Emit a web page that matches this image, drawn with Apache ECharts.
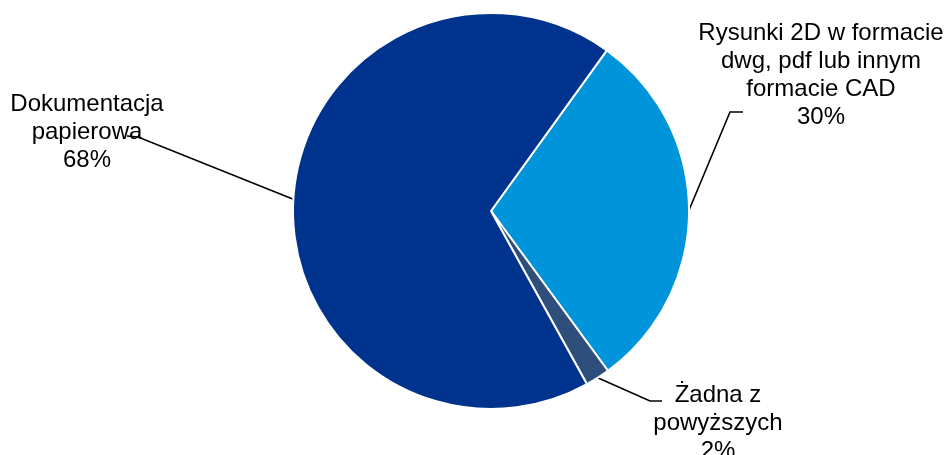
<!DOCTYPE html>
<html>
<head>
<meta charset="utf-8">
<script src="https://cdn.jsdelivr.net/npm/echarts@6/dist/echarts.min.js"></script>
<style>
html,body{margin:0;padding:0;background:#fff;}
#chart{width:946px;height:455px;}
</style>
</head>
<body>
<div id="chart"></div>
<script>
// Slice names and shares (%), in clockwise order
const categories = [
  'Rysunki 2D w formacie\ndwg, pdf lub innym\nformacie CAD',
  'Żadna z\npowyższych',
  'Dokumentacja\npapierowa'
];
const shares = [30, 2, 68];
const colors = ['#0094DA', '#2E4F7B', '#00338D'];

// Where each label sits and how its leader line bends
const labelSpots = [
  { x: 821, y: 75, bend: [730, 112], end: [743, 112] },
  { x: 718, y: 423, bend: [650, 401], end: [662, 401] },
  { x: 87, y: 132, bend: [138, 137], end: [127, 136] }
];

const chart = echarts.init(document.getElementById('chart'));
chart.setOption({
  animation: false,
  series: [{
    type: 'pie',
    center: [491, 211],
    radius: 198,
    startAngle: 54.2,
    clockwise: true,
    avoidLabelOverlap: false,
    data: categories.map((name, i) => ({
      name: name,
      value: shares[i],
      itemStyle: { color: colors[i] }
    })),
    itemStyle: { borderColor: '#ffffff', borderWidth: 2 },
    label: {
      show: true,
      formatter: '{b}\n{c}%',
      fontFamily: 'Liberation Sans, Arial, sans-serif',
      fontSize: 24,
      lineHeight: 28,
      color: '#000000',
      align: 'center'
    },
    labelLine: {
      show: true,
      lineStyle: { color: '#000000', width: 1.6 }
    },
    labelLayout: function (params) {
      const s = labelSpots[params.dataIndex];
      const p0 = params.labelLinePoints ? params.labelLinePoints[0] : s.bend;
      return {
        x: s.x,
        y: s.y,
        align: 'center',
        verticalAlign: 'middle',
        labelLinePoints: [p0, s.bend, s.end]
      };
    }
  }]
});
</script>
</body>
</html>
